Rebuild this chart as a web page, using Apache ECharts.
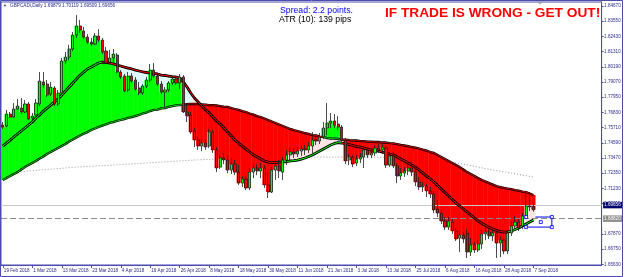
<!DOCTYPE html>
<html><head><meta charset="utf-8">
<script src="https://cdn.jsdelivr.net/npm/echarts@6/dist/echarts.min.js"></script>
<style>html,body{margin:0;padding:0;background:#fff;}#c{width:625px;height:277px;}</style>
</head><body><div id="c"></div>
<script>
// ---------- DATA ----------
const symbolName = 'GBPCADi,Daily';
const firstDate = '2018-02-19';
const barCount = 145;      // 19 Feb 2018 .. 7 Sep 2018 (weekdays)
const shiftBars = 18;      // empty space on the right (chart shift)

const opens = [1.7590,1.7583,1.7671,1.7649,1.7708,1.7715,1.7686,1.7745,1.7642,1.7664,
1.7745,1.7907,1.7892,1.7819,1.7863,1.7745,1.7826,1.8062,1.8091,1.8150,
1.8253,1.8320,1.8283,1.8238,1.8201,1.8187,1.8246,1.8216,1.8135,1.8054,
1.8084,1.8106,1.7981,1.7951,1.7848,1.7951,1.7922,1.7863,1.7826,1.7877,
1.7922,1.7995,1.7951,1.7892,1.7833,1.7848,1.7900,1.7929,1.7900,1.7944,
1.7686,1.7664,1.7546,1.7479,1.7435,1.7457,1.7435,1.7538,1.7406,1.7280,
1.7347,1.7332,1.7258,1.7302,1.7243,1.7162,1.7192,1.7126,1.7243,1.7273,
1.7251,1.7273,1.7148,1.7096,1.7258,1.7288,1.7243,1.7332,1.7369,1.7391,
1.7376,1.7398,1.7413,1.7406,1.7435,1.7479,1.7472,1.7502,1.7568,1.7605,
1.7620,1.7597,1.7575,1.7479,1.7332,1.7354,1.7310,1.7339,1.7354,1.7406,
1.7369,1.7384,1.7420,1.7406,1.7420,1.7295,1.7361,1.7288,1.7214,1.7236,
1.7251,1.7273,1.7243,1.7170,1.7133,1.7140,1.7104,1.7081,1.6971,1.6941,
1.6882,1.6838,1.6875,1.6809,1.6757,1.6779,1.6794,1.6654,1.6706,1.6669,
1.6713,1.6787,1.6801,1.6772,1.6794,1.6720,1.6742,1.6662,1.6794,1.6846,
1.6875,1.6846,1.6919,1.6993,1.69879];

const closes = [1.7575,1.7671,1.7649,1.7708,1.7730,1.7686,1.7745,1.7634,1.7656,1.7752,
1.7914,1.7885,1.7811,1.7870,1.7745,1.7826,1.8062,1.8091,1.8150,1.8253,
1.8320,1.8290,1.8238,1.8201,1.8187,1.8246,1.8216,1.8128,1.8047,1.8084,
1.8113,1.7981,1.7944,1.7841,1.7951,1.7914,1.7855,1.7826,1.7877,1.7922,
1.7995,1.7951,1.7892,1.7833,1.7848,1.7900,1.7929,1.7900,1.7944,1.7686,
1.7656,1.7538,1.7479,1.7435,1.7457,1.7428,1.7538,1.7406,1.7273,1.7347,
1.7332,1.7258,1.7302,1.7243,1.7162,1.7192,1.7126,1.7243,1.7273,1.7251,
1.7273,1.7148,1.7096,1.7258,1.7288,1.7251,1.7332,1.7369,1.7391,1.7376,
1.7398,1.7413,1.7406,1.7435,1.7479,1.7472,1.7502,1.7568,1.7605,1.7620,
1.7590,1.7575,1.7479,1.7325,1.7354,1.7302,1.7339,1.7354,1.7406,1.7369,
1.7384,1.7420,1.7406,1.7428,1.7295,1.7361,1.7288,1.7214,1.7236,1.7251,
1.7273,1.7243,1.7170,1.7133,1.7140,1.7104,1.7081,1.6964,1.6941,1.6882,
1.6838,1.6882,1.6809,1.6750,1.6779,1.6750,1.6654,1.6706,1.6669,1.6713,
1.6787,1.6801,1.6772,1.6794,1.6720,1.6742,1.6662,1.6794,1.6846,1.6875,
1.6831,1.6919,1.6993,1.6986,1.69656];

const lows = [1.7561,1.7575,1.7642,1.7642,1.7701,1.7671,1.7679,1.7627,1.7620,1.7656,
1.7730,1.7863,1.7796,1.7804,1.7730,1.7730,1.7819,1.8040,1.8069,1.8135,
1.8231,1.8268,1.8224,1.8187,1.8172,1.8180,1.8201,1.8113,1.8040,1.8040,
1.8054,1.7973,1.7929,1.7833,1.7833,1.7900,1.7841,1.7811,1.7811,1.7863,
1.7907,1.7936,1.7877,1.7819,1.7723,1.7833,1.7885,1.7885,1.7855,1.7679,
1.7612,1.7524,1.7428,1.7406,1.7398,1.7406,1.7420,1.7384,1.7243,1.7266,
1.7302,1.7236,1.7229,1.7221,1.7148,1.7133,1.7111,1.7111,1.7199,1.7221,
1.7199,1.7126,1.7052,1.7089,1.7185,1.7199,1.7185,1.7295,1.7332,1.7347,
1.7354,1.7361,1.7369,1.7384,1.7384,1.7443,1.7450,1.7487,1.7516,1.7568,
1.7568,1.7553,1.7465,1.7302,1.7295,1.7280,1.7288,1.7310,1.7273,1.7347,
1.7347,1.7361,1.7384,1.7376,1.7273,1.7280,1.7273,1.7162,1.7185,1.7207,
1.7221,1.7214,1.7140,1.7111,1.7096,1.7059,1.7052,1.6941,1.6912,1.6860,
1.6816,1.6816,1.6787,1.6735,1.6654,1.6720,1.6610,1.6625,1.6647,1.6654,
1.6676,1.6742,1.6750,1.6735,1.6610,1.6617,1.6639,1.6639,1.6772,1.6824,
1.6809,1.6824,1.6905,1.6956,1.69509];

const highs = [1.7612,1.7701,1.7686,1.7752,1.7782,1.7789,1.7774,1.7760,1.7679,1.7782,
1.7981,1.7981,1.7922,1.7907,1.7877,1.7848,1.8084,1.8128,1.8180,1.8275,
1.8401,1.8364,1.8312,1.8260,1.8231,1.8268,1.8297,1.8231,1.8165,1.8143,
1.8150,1.8121,1.7995,1.7966,1.7981,1.7973,1.7944,1.7907,1.7892,1.7944,
1.8040,1.8047,1.7966,1.7914,1.7870,1.7914,1.7951,1.7944,1.7966,1.7958,
1.7745,1.7686,1.7568,1.7502,1.7487,1.7479,1.7561,1.7553,1.7428,1.7369,
1.7384,1.7369,1.7347,1.7332,1.7295,1.7214,1.7214,1.7273,1.7310,1.7302,
1.7310,1.7295,1.7243,1.7280,1.7317,1.7332,1.7354,1.7406,1.7420,1.7420,
1.7428,1.7443,1.7443,1.7465,1.7538,1.7509,1.7531,1.7612,1.7752,1.7679,
1.7671,1.7656,1.7590,1.7494,1.7376,1.7369,1.7369,1.7384,1.7428,1.7420,
1.7406,1.7443,1.7450,1.7457,1.7435,1.7384,1.7391,1.7310,1.7273,1.7280,
1.7302,1.7317,1.7280,1.7207,1.7170,1.7155,1.7133,1.7104,1.7037,1.6964,
1.6912,1.6912,1.6897,1.6831,1.6809,1.6801,1.6824,1.6757,1.6728,1.6742,
1.6816,1.6831,1.6824,1.6816,1.6809,1.6772,1.6757,1.6816,1.6882,1.6919,
1.6897,1.6941,1.7089,1.7096,1.70119];

// slow moving average (boundary of the green / red cloud)
const maSlow = [1.7185,1.7199,1.7214,1.7229,1.7243,1.7262,1.7280,1.7295,1.7310,1.7325,
1.7343,1.7358,1.7376,1.7391,1.7406,1.7420,1.7435,1.7450,1.7468,1.7483,
1.7498,1.7513,1.7527,1.7538,1.7553,1.7564,1.7575,1.7586,1.7594,1.7605,
1.7612,1.7620,1.7627,1.7634,1.7642,1.7649,1.7656,1.7664,1.7675,1.7682,
1.7693,1.7701,1.7704,1.7712,1.7715,1.7723,1.7730,1.7734,1.7737,1.7741,
1.7744,1.7746,1.7745,1.7744,1.7742,1.7740,1.7737,1.7736,1.7734,1.7730,
1.7726,1.7723,1.7715,1.7708,1.7701,1.7693,1.7686,1.7675,1.7667,1.7656,
1.7649,1.7638,1.7627,1.7616,1.7605,1.7594,1.7583,1.7572,1.7561,1.7553,
1.7546,1.7538,1.7531,1.7524,1.7516,1.7513,1.7505,1.7502,1.7494,1.7490,
1.7490,1.7487,1.7483,1.7483,1.7479,1.7476,1.7476,1.7472,1.7472,1.7468,
1.7468,1.7465,1.7465,1.7461,1.7461,1.7457,1.7454,1.7450,1.7443,1.7439,
1.7435,1.7428,1.7424,1.7417,1.7409,1.7402,1.7391,1.7384,1.7369,1.7354,
1.7339,1.7325,1.7310,1.7295,1.7280,1.7262,1.7243,1.7229,1.7214,1.7199,
1.7185,1.7174,1.7162,1.7151,1.7140,1.7133,1.7126,1.7122,1.7118,1.7111,
1.7107,1.7100,1.7096,1.7085,1.7074];

// faster moving average (outlined line)
const maFast = [1.7435,1.7457,1.7479,1.7502,1.7524,1.7546,1.7568,1.7590,1.7612,1.7642,
1.7664,1.7693,1.7715,1.7737,1.7760,1.7782,1.7811,1.7841,1.7870,1.7900,
1.7929,1.7958,1.7981,1.8003,1.8017,1.8032,1.8047,1.8054,1.8051,1.8047,
1.8040,1.8032,1.8025,1.8017,1.8010,1.8003,1.7995,1.7988,1.7981,1.7977,
1.7973,1.7970,1.7966,1.7958,1.7955,1.7951,1.7947,1.7944,1.7936,1.7907,
1.7870,1.7826,1.7789,1.7760,1.7730,1.7701,1.7679,1.7649,1.7620,1.7597,
1.7568,1.7538,1.7509,1.7479,1.7457,1.7435,1.7413,1.7391,1.7369,1.7354,
1.7339,1.7325,1.7317,1.7313,1.7313,1.7317,1.7317,1.7321,1.7325,1.7328,
1.7332,1.7339,1.7347,1.7358,1.7369,1.7384,1.7398,1.7413,1.7428,1.7443,
1.7454,1.7461,1.7457,1.7454,1.7446,1.7439,1.7431,1.7428,1.7420,1.7413,
1.7406,1.7402,1.7398,1.7391,1.7384,1.7376,1.7369,1.7354,1.7339,1.7325,
1.7310,1.7295,1.7277,1.7258,1.7236,1.7214,1.7192,1.7170,1.7144,1.7118,
1.7092,1.7067,1.7041,1.7015,1.6993,1.6971,1.6949,1.6927,1.6905,1.6882,
1.6864,1.6849,1.6835,1.6824,1.6813,1.6805,1.6801,1.6801,1.6809,1.6820,
1.6831,1.6846,1.6860,1.6875,1.6890];

// long moving average (dotted), read at selected bars: [barIndex, price]
const maLongPts = [[0,1.7236],[10,1.7258],[20,1.7280],[30,1.7295],[43,1.7317],[52,1.7332],
[61,1.7343],[70,1.7351],[79,1.7354],[88,1.7354],[97,1.7354],[105,1.7351],[112,1.7343],
[117,1.7332],[121,1.7317],[125,1.7302],[129,1.7280],[133,1.7258],[138,1.7236],[144,1.7207]];

const yTickValues = [1.84670,1.83550,1.82430,1.81310,1.80190,1.79070,1.77950,1.76830,1.75710,
1.74590,1.73470,1.72350,1.71230,1.70110,1.67870,1.66750,1.65630];
const yMin = 1.65585, yMax = 1.84965;

const bidPrice = 1.69656;
const dashedLevel = 1.68820;
const boxBars = [142, 149];
const boxPrices = [1.6912, 1.6838];

const spreadText = 'Spread: 2.2 points.';
const atrText = 'ATR (10): 139 pips';
const warnText = 'IF TRADE IS WRONG - GET OUT!';

// ---------- STYLE ----------
const FRAME = '#4b4bb0';
const LABEL = '#2a2a8a';
const fastInnerPieces = [
  {lt: 27, color: '#00ff00'}, {gte: 27, lt: 76, color: '#ff0000'},
  {gte: 76, lt: 92, color: '#00ff00'}, {gte: 92, lt: 137, color: '#ff0000'},
  {gte: 137, color: '#00ff00'}
];
const slowInnerPieces = [
  {lt: 49, color: '#00ff00'}, {gte: 49, lt: 87, color: '#ff0000'},
  {gte: 87, lt: 92, color: '#00ff00'}, {gte: 92, color: '#ff0000'}
];

// ---------- BUILD ----------
const MONTHS = ['Jan','Feb','Mar','Apr','May','Jun','Jul','Aug','Sep','Oct','Nov','Dec'];
function weekdays(start, n) {
  const out = []; const d = new Date(start + 'T00:00:00Z');
  while (out.length < n) {
    const wd = d.getUTCDay();
    if (wd !== 0 && wd !== 6) out.push(d.getUTCDate() + ' ' + MONTHS[d.getUTCMonth()] + ' ' + d.getUTCFullYear());
    d.setUTCDate(d.getUTCDate() + 1);
  }
  return out;
}
const categories = weekdays(firstDate, barCount + shiftBars);
const candles = opens.map((o, i) => [o, closes[i], lows[i], highs[i]]);
const strongData = closes.map((c, i) => [i, c, maSlow[i], c >= maSlow[i] ? 1 : 0]);
let trend = 1;
const lightData = maFast.map((f, i) => {
  if (i > 0) { if (maSlow[i] > maSlow[i-1]) trend = 1; else if (maSlow[i] < maSlow[i-1]) trend = 0; }
  return [i, f, maSlow[i], trend];
});

function barRender(colors) {
  return function (params, api) {
    const i = api.value(0);
    const p1 = api.coord([i, api.value(1)]);
    const p2 = api.coord([i, api.value(2)]);
    const w = api.size([1, 0])[0];
    return {
      type: 'rect',
      shape: {x: p1[0] - w / 2 - 0.2, y: Math.min(p1[1], p2[1]), width: w + 0.4, height: Math.abs(p2[1] - p1[1])},
      style: {fill: colors[api.value(3)]}
    };
  };
}

const showIdx = (idx) => idx % 8 === 0 && idx < barCount;
const titleLine = symbolName + ' ' + opens[barCount-1].toFixed(5) + ' ' + highs[barCount-1].toFixed(5) + ' ' +
  lows[barCount-1].toFixed(5) + ' ' + closes[barCount-1].toFixed(5);

const chart = echarts.init(document.getElementById('c'), null, {renderer: 'canvas', width: 625, height: 277});
chart.setOption({
  animation: false,
  backgroundColor: '#ffffff',
  grid: {left: 1, top: 2, width: 600.6, height: 263, show: true, borderColor: FRAME, borderWidth: 1, backgroundColor: '#fff'},
  xAxis: {
    type: 'category', data: categories, boundaryGap: true,
    axisLine: {show: true, lineStyle: {color: FRAME}},
    axisTick: {show: true, interval: (i) => showIdx(i), alignWithLabel: true, length: 3, lineStyle: {color: FRAME}},
    axisLabel: {interval: (i) => showIdx(i), align: 'left', margin: 3.2, fontSize: 4.6,
      fontFamily: 'Liberation Sans', color: LABEL, padding: [0, 0, 0, 1]},
    splitLine: {show: false}
  },
  yAxis: {
    type: 'value', position: 'right', min: yMin, max: yMax, scale: true,
    axisLine: {show: true, lineStyle: {color: FRAME}},
    axisTick: {show: true, customValues: yTickValues, length: 2, lineStyle: {color: FRAME}},
    axisLabel: {customValues: yTickValues, formatter: (v) => v.toFixed(5), margin: 2.5, fontSize: 4.6,
      fontFamily: 'Liberation Sans', color: LABEL},
    splitLine: {show: false}
  },
  visualMap: [
    {type: 'piecewise', show: false, seriesIndex: 6, dimension: 0, pieces: fastInnerPieces},
    {type: 'piecewise', show: false, seriesIndex: 4, dimension: 0, pieces: slowInnerPieces}
  ],
  series: [
    {type: 'line', name: 'maLong', data: maLongPts, symbol: 'none', z: 1, silent: true,
      lineStyle: {color: '#9a9a9a', width: 1, type: [1, 2]},
      markLine: {symbol: 'none', silent: true, animation: false,
        data: [{yAxis: bidPrice, lineStyle: {color: '#c8c8c8', type: 'solid', width: 1},
          label: {show: true, position: 'end', distance: 1.5, formatter: bidPrice.toFixed(5), fontSize: 4.6,
            fontFamily: 'Liberation Sans', color: '#fff', backgroundColor: '#000070', padding: [1, 2, 0.5, 1]}}]}},
    {type: 'custom', name: 'light', data: lightData, renderItem: barRender(['#ffe4e4', '#dcf8f8']), z: 2, silent: true,
      encode: {x: 0, y: [1, 2]}, clip: true},
    {type: 'custom', name: 'strong', data: strongData, renderItem: barRender(['#ff0000', '#00ff00']), z: 3, silent: true,
      encode: {x: 0, y: [1, 2]}, clip: true},
    {type: 'line', name: 'maSlowOutline', data: maSlow, symbol: 'none', z: 4, silent: true,
      lineStyle: {color: '#000', width: 2.3}},
    {type: 'line', name: 'maSlow', data: maSlow, symbol: 'none', z: 4, silent: true,
      lineStyle: {width: 0.8}},
    {type: 'line', name: 'maFastOutline', data: maFast, symbol: 'none', z: 5, silent: true,
      lineStyle: {color: '#000', width: 2.8}},
    {type: 'line', name: 'maFast', data: maFast, symbol: 'none', z: 6, silent: true,
      lineStyle: {width: 1}},
    {type: 'candlestick', name: symbolName, data: candles, barWidth: 2.6, z: 7, silent: true,
      itemStyle: {color: '#00ff00', color0: '#ff0000', borderColor: '#1e1e1e', borderColor0: '#1e1e1e', borderWidth: 0.8}},
    {type: 'scatter', name: 'box', z: 9, silent: true, symbol: 'rect', symbolSize: 3,
      data: [[boxBars[0], boxPrices[0]], [boxBars[1], boxPrices[0]], [boxBars[0], boxPrices[1]], [boxBars[1], boxPrices[1]],
        [(boxBars[0] + boxBars[1]) / 2, (boxPrices[0] + boxPrices[1]) / 2]],
      itemStyle: {color: '#ffffff', borderColor: '#0000ff', borderWidth: 1},
      markArea: {silent: true, itemStyle: {color: 'rgba(0,0,0,0)', borderColor: '#0000ff', borderWidth: 1},
        data: [[{xAxis: boxBars[0], yAxis: boxPrices[0]}, {xAxis: boxBars[1], yAxis: boxPrices[1]}]]},
      markLine: {symbol: 'none', silent: true, animation: false,
        data: [{yAxis: dashedLevel, lineStyle: {color: '#8c8c8c', type: [6, 3], width: 1},
          label: {show: true, position: 'end', distance: 1.5, formatter: dashedLevel.toFixed(5), fontSize: 4.6,
            fontFamily: 'Liberation Sans', color: '#fff', backgroundColor: '#8c8c8c', padding: [1, 2, 0.5, 1]}}]}}
  ],
  graphic: [
    {type: 'rect', silent: true, z: 100, shape: {x: 0.5, y: 0.5, width: 622, height: 276}, style: {fill: 'none', stroke: FRAME, lineWidth: 1}},
    {type: 'text', silent: true, z: 100, x: 3, y: 6, style: {text: '▼', fontSize: 4, fill: LABEL, verticalAlign: 'middle'}},
    {type: 'text', silent: true, z: 100, x: 10, y: 6, style: {text: titleLine, fontSize: 4.7, fontFamily: 'Liberation Sans', fill: LABEL, verticalAlign: 'middle'}},
    {type: 'text', silent: true, z: 100, x: 280, y: 10.5, style: {text: spreadText, fontSize: 8.7, fontFamily: 'Liberation Sans', fill: '#0000ff', verticalAlign: 'middle'}},
    {type: 'text', silent: true, z: 100, x: 279, y: 20, style: {text: atrText, fontSize: 8.7, fontFamily: 'Liberation Sans', fill: '#000000', verticalAlign: 'middle'}},
    {type: 'text', silent: true, z: 100, x: 385, y: 13, style: {text: warnText, fontSize: 13.7, fontWeight: 'bold', fontFamily: 'Liberation Sans', fill: '#ff0000', verticalAlign: 'middle'}},
    {type: 'polygon', silent: true, z: 100, shape: {points: [[537, 1.5], [543, 1.5], [540, 4.5]]}, style: {fill: '#a0a0a0'}}
  ]
});
</script>
</body></html>
